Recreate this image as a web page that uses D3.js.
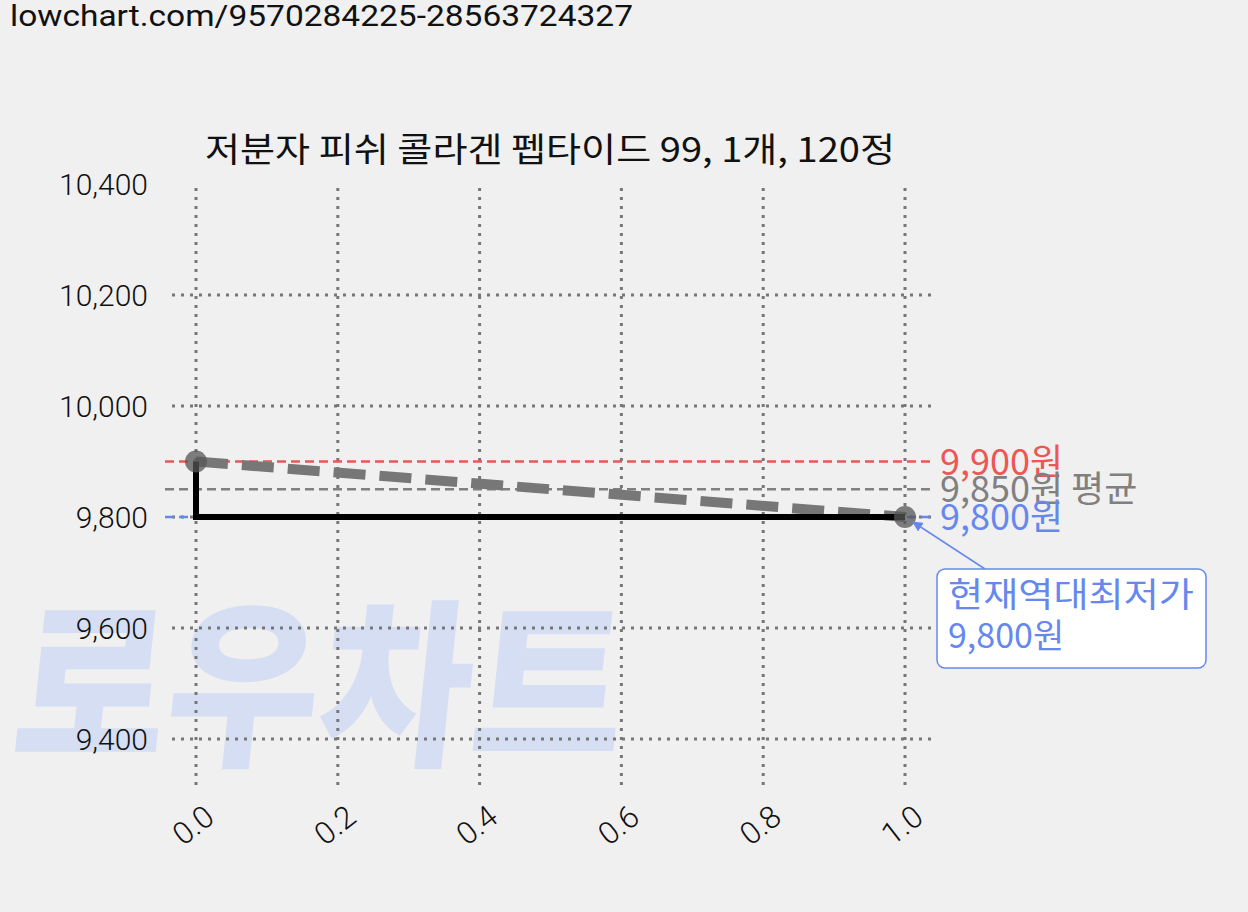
<!DOCTYPE html>
<html><head><meta charset="utf-8">
<script src="https://cdn.jsdelivr.net/npm/d3@7"></script>
<style>body{margin:0;background:#f0f0f0}svg{display:block}</style>
</head><body>
<script>
const xs=[0,1];
const prices=[9900,9800];
const stepPrices=[9900,9800,9800];
const stepXs=[0,0,1];
const xTicks=[0,0.2,0.4,0.6,0.8,1.0];
const yTicks=[9400,9600,9800,10000,10200,10400];
const refLines=[{v:9900,c:"#ee5555",t:"9,900원"},{v:9850,c:"#808080",t:"9,850원 평균"},{v:9800,c:"#6688ee",t:"9,800원"}];
const title="저분자 피쉬 콜라겐 펩타이드 99, 1개, 120정";
const font="'Noto Sans CJK KR', Roboto, sans-serif";
const W=1248,H=912;
const svg=d3.select("body").append("svg").attr("width",W).attr("height",H).style("font-family",font);
svg.append("rect").attr("width",W).attr("height",H).attr("fill","#f0f0f0");
svg.append("text").attr("x",10).attr("y",26).attr("font-size",30).attr("fill","#111").attr("textLength",623).attr("lengthAdjust","spacingAndGlyphs").style("font-family","Roboto, sans-serif").text("lowchart.com/9570284225-28563724327");
// watermark
svg.append("text").attr("x",10).attr("y",752).attr("font-size",180).attr("font-weight",900).attr("fill","#d5def2")
 .attr("transform","skewX(-6) translate(78,0)").attr("textLength",610).attr("lengthAdjust","spacingAndGlyphs").text("로우차트");
const x=d3.scaleLinear().domain([0,1]).range([196,905]);
const y=d3.scaleLinear().domain([9400,10400]).range([739,184]);
const g=svg.append("g");
g.selectAll(".hg").data(yTicks.filter(d=>d<10400)).join("line").attr("x1",172).attr("x2",933).attr("y1",d=>y(d)).attr("y2",d=>y(d)).attr("stroke","#777").attr("stroke-width",3).attr("stroke-dasharray","3,6");
g.selectAll(".vg").data(xTicks).join("line").attr("x1",d=>x(d)).attr("x2",d=>x(d)).attr("y1",188).attr("y2",785).attr("stroke","#777").attr("stroke-width",3).attr("stroke-dasharray","3,6");
g.selectAll(".yl").data(yTicks).join("text").attr("x",148).attr("y",d=>y(d)+11).attr("text-anchor","end").attr("font-size",30).attr("font-weight",300).attr("fill","#111").style("font-family","Roboto, sans-serif").text(d3.format(","));
g.selectAll(".xl").data(xTicks).join("text").attr("transform",d=>`translate(${x(d)+4},${800}) rotate(-38)`).attr("text-anchor","end").attr("dy","0.85em").attr("font-size",31).attr("font-weight",300).attr("fill","#111").style("font-family","Roboto, sans-serif").text(d=>d.toFixed(1));
refLines.forEach(r=>{
 g.append("line").attr("x1",165).attr("x2",935).attr("y1",y(r.v)).attr("y2",y(r.v)).attr("stroke",r.c).attr("stroke-width",2.5).attr("stroke-dasharray","9,5");
 g.append("text").attr("x",940).attr("y",y(r.v)+13).attr("font-size",36).attr("fill",r.c).text(r.t);
});
g.append("path").attr("d",d3.line().x((d,i)=>x(xs[i])).y(d=>y(d))(prices)).attr("stroke","#777").attr("stroke-width",10).attr("stroke-dasharray","32,14").attr("fill","none");
g.append("path").attr("d",d3.line().x((d,i)=>x(stepXs[i])).y(d=>y(d))(stepPrices)).attr("stroke","#000").attr("stroke-width",6).attr("fill","none");
g.selectAll(".pt").data(prices).join("circle").attr("cx",(d,i)=>x(xs[i])).attr("cy",d=>y(d)).attr("r",11).attr("fill","#555").attr("opacity",0.75);
svg.append("text").attr("x",550).attr("y",162).attr("text-anchor","middle").attr("font-size",34).attr("fill","#111").attr("textLength",690).attr("lengthAdjust","spacingAndGlyphs").text(title);
svg.append("defs").append("marker").attr("id","ar").attr("viewBox","0 0 10 10").attr("refX",9).attr("refY",5).attr("markerWidth",7).attr("markerHeight",7).attr("orient","auto").append("path").attr("d","M0,0L10,5L0,10z").attr("fill","#6688ee");
svg.append("line").attr("x1",985).attr("y1",569).attr("x2",x(1)+8).attr("y2",y(9800)+5).attr("stroke","#6688ee").attr("stroke-width",1.5).attr("marker-end","url(#ar)");
svg.append("rect").attr("x",937).attr("y",569).attr("width",269).attr("height",99).attr("rx",8).attr("fill","#fff").attr("stroke","#6688ee").attr("stroke-width",1.5);
svg.append("text").attr("x",948).attr("y",607).attr("font-size",34).attr("fill","#6688ee").attr("textLength",246).attr("lengthAdjust","spacingAndGlyphs").text("현재역대최저가");
svg.append("text").attr("x",948).attr("y",648).attr("font-size",34).attr("fill","#6688ee").text("9,800원");
</script>
</body></html>
